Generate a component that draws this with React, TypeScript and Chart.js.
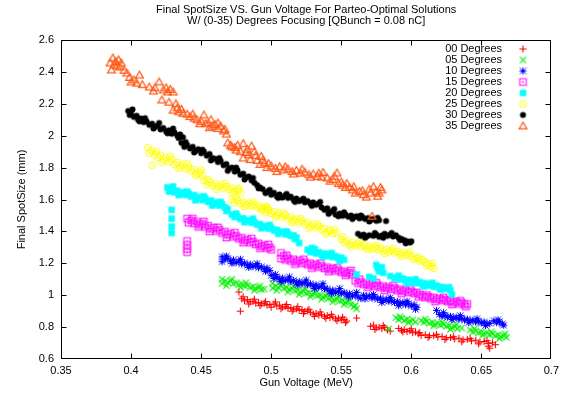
import React, { useEffect, useRef } from 'react';
import { Chart, registerables } from 'chart.js';

Chart.register(...registerables);

const TITLE_LINES = [
  'Final SpotSize VS. Gun Voltage For Parteo-Optimal Solutions',
  'W/ (0-35) Degrees Focusing [QBunch = 0.08 nC]',
];
const X_TITLE = 'Gun Voltage (MeV)';
const Y_TITLE = 'Final SpotSize (mm)';

const SERIES_LABELS = ['00 Degrees', '05 Degrees', '10 Degrees', '15 Degrees', '20 Degrees', '25 Degrees', '30 Degrees', '35 Degrees'];
const SERIES_COLORS = ['#ff0000', '#00f000', '#0000ff', '#ff00ff', '#00ffff', '#ffff00', '#000000', '#ff5a1a'];
const SERIES_MARKERS = ['plus', 'cross', 'star', 'boxdot', 'square', 'circdot', 'disc', 'triangle'];

const X_TICKS = [0.35, 0.4, 0.45, 0.5, 0.55, 0.6, 0.65, 0.7];
const X_TICK_LABELS = ['0.35', '0.4', '0.45', '0.5', '0.55', '0.6', '0.65', '0.7'];
const Y_TICKS = [0.6, 0.8, 1, 1.2, 1.4, 1.6, 1.8, 2, 2.2, 2.4, 2.6];
const Y_TICK_LABELS = ['0.6', '0.8', '1', '1.2', '1.4', '1.6', '1.8', '2', '2.2', '2.4', '2.6'];

const DEG00: [number, number][] = [
  [0.477, 1.020], [0.478, 0.900],
  [0.479, 0.978], [0.481, 0.965], [0.483, 0.972], [0.485, 0.958], [0.487, 0.962], [0.489, 0.950], [0.491, 0.955], [0.493, 0.946], [0.495, 0.950], [0.497, 0.938], [0.499, 0.942],
  [0.502, 0.945], [0.504, 0.932], [0.506, 0.938], [0.508, 0.925], [0.510, 0.930], [0.512, 0.918], [0.514, 0.922], [0.516, 0.912], [0.518, 0.915], [0.520, 0.905], [0.522, 0.910], [0.524, 0.898], [0.526, 0.902],
  [0.528, 0.893], [0.530, 0.882], [0.532, 0.886], [0.534, 0.875], [0.536, 0.878], [0.538, 0.868], [0.540, 0.872], [0.542, 0.860], [0.544, 0.864], [0.546, 0.852], [0.548, 0.856], [0.550, 0.845], [0.552, 0.848], [0.554, 0.838],
  [0.561, 0.857],
  [0.571, 0.805], [0.573, 0.812], [0.575, 0.795], [0.577, 0.800], [0.579, 0.790], [0.581, 0.798], [0.583, 0.782], [0.585, 0.775],
  [0.591, 0.792], [0.593, 0.780], [0.595, 0.785], [0.597, 0.772], [0.599, 0.778], [0.601, 0.765], [0.603, 0.770], [0.605, 0.758], [0.607, 0.748],
  [0.610, 0.752], [0.613, 0.745], [0.616, 0.748], [0.619, 0.738], [0.622, 0.742], [0.625, 0.732], [0.628, 0.735], [0.631, 0.726], [0.634, 0.730], [0.637, 0.720], [0.640, 0.724], [0.643, 0.714], [0.646, 0.718], [0.649, 0.706], [0.652, 0.710], [0.655, 0.698], [0.658, 0.702], [0.655, 0.680], [0.656, 0.668],
  [0.480, 0.990], [0.484, 0.945], [0.488, 0.975], [0.492, 0.935], [0.496, 0.960], [0.500, 0.925], [0.503, 0.958], [0.507, 0.915], [0.511, 0.942], [0.515, 0.900], [0.519, 0.928], [0.523, 0.885], [0.527, 0.912], [0.531, 0.868], [0.535, 0.895], [0.539, 0.855], [0.543, 0.880], [0.547, 0.840], [0.551, 0.862], [0.553, 0.828],
  [0.574, 0.785], [0.580, 0.810], [0.594, 0.770], [0.600, 0.790], [0.606, 0.765], [0.612, 0.735], [0.618, 0.755], [0.624, 0.722], [0.630, 0.740], [0.636, 0.708], [0.642, 0.730], [0.648, 0.695], [0.654, 0.715], [0.660, 0.690],
];

const DEG05: [number, number][] = [
  [0.465, 1.100], [0.465, 1.075], [0.467, 1.088], [0.469, 1.080], [0.471, 1.090], [0.473, 1.072], [0.475, 1.078], [0.477, 1.066], [0.479, 1.070], [0.481, 1.058], [0.483, 1.062], [0.485, 1.050], [0.487, 1.054], [0.489, 1.043], [0.491, 1.047], [0.493, 1.036], [0.495, 1.038],
  [0.501, 1.075], [0.501, 1.045], [0.503, 1.058], [0.505, 1.050], [0.507, 1.060], [0.509, 1.042], [0.511, 1.048], [0.513, 1.035], [0.515, 1.040], [0.517, 1.028], [0.519, 1.033], [0.521, 1.020], [0.523, 1.025], [0.525, 1.012], [0.527, 1.017], [0.529, 1.005], [0.531, 1.009], [0.533, 0.996], [0.535, 1.001], [0.537, 0.988], [0.539, 0.993], [0.541, 0.980], [0.543, 0.984], [0.545, 0.972], [0.547, 0.976], [0.549, 0.963], [0.551, 0.967], [0.553, 0.955], [0.555, 0.958], [0.557, 0.940], [0.559, 0.928], [0.561, 0.915],
  [0.584, 0.790],
  [0.589, 0.858], [0.591, 0.848], [0.593, 0.855], [0.595, 0.842], [0.597, 0.850], [0.599, 0.838], [0.601, 0.845], [0.603, 0.832],
  [0.607, 0.842], [0.609, 0.830], [0.611, 0.836], [0.613, 0.824], [0.615, 0.830], [0.617, 0.818], [0.619, 0.824], [0.621, 0.812], [0.623, 0.818], [0.625, 0.805], [0.627, 0.810], [0.629, 0.798], [0.631, 0.803], [0.633, 0.790], [0.636, 0.794],
  [0.642, 0.782], [0.644, 0.770], [0.646, 0.776], [0.648, 0.765], [0.650, 0.770], [0.652, 0.758], [0.654, 0.764], [0.656, 0.752], [0.658, 0.758], [0.660, 0.746], [0.662, 0.752], [0.664, 0.740], [0.666, 0.746], [0.668, 0.736],
  [0.468, 1.060], [0.472, 1.100], [0.478, 1.050], [0.482, 1.078], [0.488, 1.030], [0.492, 1.058], [0.504, 1.030], [0.508, 1.072], [0.512, 1.020], [0.516, 1.055], [0.520, 1.005], [0.524, 1.040], [0.528, 0.990], [0.532, 1.022], [0.536, 0.975], [0.540, 1.008], [0.544, 0.958], [0.548, 0.990], [0.552, 0.942], [0.556, 0.970], [0.560, 0.935],
  [0.592, 0.865], [0.598, 0.828], [0.610, 0.850], [0.616, 0.808], [0.622, 0.830], [0.628, 0.785], [0.632, 0.815], [0.645, 0.790], [0.651, 0.750], [0.657, 0.770], [0.663, 0.728], [0.667, 0.758],
];

const DEG10: [number, number][] = [
  [0.465, 1.240], [0.465, 1.210], [0.467, 1.225], [0.469, 1.232], [0.471, 1.215], [0.473, 1.222], [0.475, 1.205], [0.477, 1.212], [0.479, 1.196], [0.481, 1.202], [0.483, 1.188], [0.485, 1.194], [0.487, 1.180], [0.489, 1.186], [0.491, 1.172], [0.493, 1.178], [0.495, 1.164], [0.497, 1.170], [0.499, 1.155],
  [0.500, 1.125], [0.502, 1.105], [0.504, 1.115], [0.506, 1.100], [0.508, 1.108], [0.510, 1.092], [0.512, 1.100], [0.514, 1.085], [0.516, 1.093], [0.518, 1.078], [0.520, 1.086], [0.522, 1.072], [0.524, 1.079], [0.526, 1.065], [0.528, 1.072], [0.530, 1.058], [0.532, 1.065], [0.534, 1.050], [0.536, 1.057], [0.538, 1.042],
  [0.540, 1.040], [0.542, 1.025], [0.544, 1.032], [0.546, 1.018], [0.548, 1.025], [0.550, 1.010], [0.552, 1.017], [0.554, 1.003], [0.556, 1.010], [0.558, 0.995], [0.560, 1.002], [0.562, 0.988], [0.564, 0.980],
  [0.566, 1.000], [0.568, 0.990], [0.570, 0.996], [0.572, 0.982], [0.574, 0.989], [0.576, 0.975], [0.578, 0.982], [0.580, 0.968], [0.582, 0.975], [0.584, 0.961], [0.586, 0.968], [0.588, 0.954], [0.590, 0.961], [0.592, 0.947], [0.594, 0.954], [0.596, 0.940], [0.598, 0.947], [0.600, 0.933], [0.602, 0.940], [0.604, 0.925],
  [0.618, 0.905],
  [0.620, 0.880], [0.622, 0.868], [0.624, 0.874], [0.626, 0.862], [0.628, 0.868], [0.630, 0.856], [0.632, 0.862], [0.634, 0.850], [0.636, 0.856], [0.638, 0.844], [0.640, 0.850], [0.642, 0.838], [0.644, 0.844], [0.646, 0.832], [0.648, 0.838], [0.650, 0.826], [0.652, 0.832], [0.654, 0.820], [0.656, 0.824],
  [0.659, 0.840], [0.661, 0.828], [0.663, 0.834], [0.665, 0.820], [0.666, 0.812],
  [0.468, 1.245], [0.472, 1.200], [0.478, 1.225], [0.484, 1.175], [0.490, 1.198], [0.496, 1.150], [0.503, 1.130], [0.507, 1.085], [0.513, 1.115], [0.519, 1.065], [0.525, 1.095], [0.531, 1.042], [0.537, 1.072], [0.543, 1.012], [0.549, 1.042], [0.555, 0.990], [0.561, 1.018], [0.567, 0.978], [0.573, 1.005], [0.579, 0.955], [0.585, 0.985], [0.591, 0.935], [0.597, 0.962], [0.603, 0.912], [0.623, 0.890], [0.629, 0.848], [0.635, 0.872], [0.641, 0.828], [0.647, 0.852], [0.653, 0.810], [0.662, 0.845],
];

const DEG15: [number, number][] = [
  [0.440, 1.480], [0.441, 1.455], [0.443, 1.468], [0.445, 1.450], [0.447, 1.460], [0.449, 1.440], [0.451, 1.448], [0.453, 1.428], [0.455, 1.436], [0.457, 1.415], [0.459, 1.424], [0.461, 1.402], [0.463, 1.410], [0.465, 1.390], [0.467, 1.398], [0.469, 1.378], [0.471, 1.385], [0.473, 1.366], [0.475, 1.372], [0.477, 1.354], [0.479, 1.360], [0.481, 1.342], [0.483, 1.348], [0.485, 1.330], [0.487, 1.336], [0.489, 1.318], [0.491, 1.325], [0.493, 1.306], [0.495, 1.313], [0.497, 1.295], [0.499, 1.300], [0.500, 1.285],
  [0.440, 1.340], [0.440, 1.315], [0.440, 1.290], [0.440, 1.270],
  [0.507, 1.265], [0.509, 1.245], [0.507, 1.230], [0.510, 1.222], [0.512, 1.232], [0.514, 1.215], [0.516, 1.225], [0.518, 1.208], [0.520, 1.217], [0.522, 1.200], [0.524, 1.208], [0.526, 1.192], [0.528, 1.200], [0.530, 1.184], [0.532, 1.192], [0.534, 1.176], [0.536, 1.184], [0.538, 1.168], [0.540, 1.176], [0.542, 1.160], [0.544, 1.168], [0.546, 1.152], [0.548, 1.158], [0.550, 1.144], [0.552, 1.150], [0.554, 1.136], [0.556, 1.142], [0.558, 1.128],
  [0.560, 1.090], [0.562, 1.075], [0.564, 1.083], [0.566, 1.068], [0.568, 1.076], [0.570, 1.062], [0.572, 1.070], [0.574, 1.055], [0.576, 1.063], [0.578, 1.050], [0.580, 1.057], [0.582, 1.043], [0.584, 1.050], [0.586, 1.037], [0.588, 1.045], [0.590, 1.030], [0.592, 1.038], [0.594, 1.024], [0.596, 1.032], [0.598, 1.018], [0.600, 1.025], [0.602, 1.012], [0.604, 1.018], [0.606, 1.005],
  [0.608, 0.995], [0.610, 0.985], [0.612, 0.992], [0.614, 0.978], [0.616, 0.986], [0.618, 0.972], [0.620, 0.980], [0.622, 0.966], [0.624, 0.973], [0.626, 0.960], [0.628, 0.967], [0.630, 0.953], [0.632, 0.960], [0.634, 0.946], [0.636, 0.953], [0.638, 0.940], [0.640, 0.945],
  [0.444, 1.480], [0.448, 1.428], [0.452, 1.462], [0.456, 1.400], [0.462, 1.425], [0.468, 1.362], [0.474, 1.392], [0.480, 1.330], [0.486, 1.355], [0.492, 1.295], [0.498, 1.318],
  [0.511, 1.250], [0.517, 1.195], [0.523, 1.225], [0.529, 1.170], [0.535, 1.200], [0.541, 1.148], [0.547, 1.172], [0.553, 1.125], [0.557, 1.155],
  [0.563, 1.100], [0.569, 1.050], [0.575, 1.078], [0.581, 1.030], [0.587, 1.060], [0.593, 1.010], [0.599, 1.040], [0.605, 0.990], [0.611, 1.002], [0.617, 0.960], [0.623, 0.985], [0.629, 0.942], [0.635, 0.965], [0.639, 0.928],
];

const DEG20: [number, number][] = [
  [0.426, 1.675], [0.427, 1.650], [0.429, 1.662], [0.431, 1.645], [0.433, 1.655], [0.435, 1.636], [0.437, 1.646], [0.439, 1.628], [0.441, 1.638], [0.443, 1.618], [0.445, 1.628], [0.447, 1.608], [0.449, 1.616], [0.451, 1.596], [0.453, 1.606], [0.455, 1.585], [0.457, 1.594], [0.459, 1.574], [0.461, 1.583], [0.463, 1.562], [0.465, 1.570], [0.467, 1.550], [0.469, 1.540],
  [0.429, 1.535], [0.429, 1.480], [0.429, 1.430], [0.429, 1.390],
  [0.472, 1.505], [0.474, 1.490], [0.476, 1.494], [0.478, 1.478], [0.480, 1.482], [0.482, 1.466], [0.484, 1.470], [0.486, 1.454], [0.488, 1.458], [0.490, 1.442], [0.492, 1.446], [0.494, 1.430], [0.496, 1.434], [0.498, 1.418], [0.500, 1.422], [0.502, 1.406], [0.504, 1.410], [0.506, 1.394], [0.508, 1.398], [0.510, 1.382], [0.512, 1.386], [0.514, 1.372], [0.516, 1.375], [0.518, 1.362],
  [0.520, 1.327], [0.529, 1.296],
  [0.526, 1.285], [0.528, 1.270], [0.530, 1.278], [0.532, 1.262], [0.534, 1.270], [0.536, 1.254], [0.538, 1.262], [0.540, 1.246], [0.542, 1.254], [0.544, 1.238], [0.546, 1.245], [0.548, 1.230], [0.550, 1.236], [0.552, 1.222],
  [0.561, 1.130],
  [0.570, 1.115], [0.573, 1.105], [0.575, 1.190], [0.576, 1.170], [0.577, 1.150], [0.579, 1.175], [0.580, 1.140], [0.585, 1.120], [0.588, 1.105], [0.590, 1.112], [0.592, 1.098], [0.594, 1.105], [0.596, 1.090], [0.598, 1.097], [0.600, 1.082], [0.602, 1.089], [0.604, 1.075], [0.606, 1.082], [0.608, 1.068], [0.610, 1.075], [0.612, 1.060], [0.614, 1.067], [0.616, 1.053], [0.618, 1.060], [0.620, 1.046], [0.622, 1.052], [0.624, 1.040], [0.626, 1.044], [0.628, 1.030], [0.629, 1.005],
  [0.430, 1.682], [0.434, 1.628], [0.440, 1.650], [0.446, 1.595], [0.452, 1.620], [0.458, 1.562], [0.464, 1.585], [0.468, 1.528],
  [0.475, 1.512], [0.481, 1.458], [0.487, 1.480], [0.493, 1.420], [0.499, 1.440], [0.505, 1.385], [0.511, 1.400], [0.517, 1.352],
  [0.531, 1.290], [0.537, 1.240], [0.543, 1.265], [0.549, 1.215],
  [0.591, 1.122], [0.597, 1.075], [0.603, 1.100], [0.609, 1.055], [0.615, 1.078], [0.621, 1.035], [0.627, 1.050],
];

const DEG25: [number, number][] = [
  [0.412, 1.925], [0.413, 1.890], [0.415, 1.905], [0.415, 1.815], [0.417, 1.880], [0.419, 1.865], [0.421, 1.878], [0.423, 1.850], [0.425, 1.862], [0.427, 1.836], [0.429, 1.848], [0.431, 1.820], [0.433, 1.832], [0.435, 1.806], [0.437, 1.818], [0.439, 1.792], [0.441, 1.804], [0.443, 1.778], [0.445, 1.788], [0.447, 1.762], [0.449, 1.772], [0.451, 1.748],
  [0.452, 1.720], [0.454, 1.695], [0.456, 1.708], [0.458, 1.688], [0.460, 1.700], [0.462, 1.680], [0.464, 1.692], [0.466, 1.672], [0.468, 1.682], [0.470, 1.662], [0.472, 1.672], [0.474, 1.652], [0.476, 1.660], [0.478, 1.642],
  [0.472, 1.600], [0.474, 1.582], [0.476, 1.592], [0.478, 1.575], [0.480, 1.584], [0.482, 1.568], [0.484, 1.577], [0.486, 1.560], [0.488, 1.568], [0.490, 1.552], [0.492, 1.560], [0.494, 1.544], [0.496, 1.550], [0.498, 1.535],
  [0.494, 1.545], [0.496, 1.520], [0.498, 1.534], [0.500, 1.512], [0.502, 1.524], [0.504, 1.502], [0.506, 1.513], [0.508, 1.490], [0.510, 1.500], [0.512, 1.478], [0.514, 1.490], [0.516, 1.468], [0.518, 1.478], [0.520, 1.456], [0.522, 1.466], [0.524, 1.445], [0.526, 1.455], [0.528, 1.433], [0.530, 1.443], [0.532, 1.422], [0.534, 1.431], [0.536, 1.410], [0.538, 1.418], [0.540, 1.398], [0.542, 1.406], [0.544, 1.386], [0.546, 1.392],
  [0.550, 1.350], [0.552, 1.330], [0.554, 1.340], [0.556, 1.320], [0.558, 1.330], [0.560, 1.312], [0.562, 1.322], [0.564, 1.305], [0.566, 1.315], [0.568, 1.298], [0.570, 1.308], [0.572, 1.292], [0.574, 1.300], [0.576, 1.285], [0.578, 1.294], [0.580, 1.278], [0.582, 1.287], [0.584, 1.272], [0.586, 1.280], [0.588, 1.265], [0.590, 1.274], [0.592, 1.258], [0.594, 1.266], [0.596, 1.250], [0.598, 1.258], [0.600, 1.242], [0.602, 1.225], [0.604, 1.232], [0.606, 1.215], [0.608, 1.222], [0.610, 1.205], [0.612, 1.195], [0.614, 1.180], [0.616, 1.168],
  [0.418, 1.900], [0.422, 1.835], [0.428, 1.870], [0.434, 1.795], [0.440, 1.825], [0.446, 1.752], [0.450, 1.785],
  [0.455, 1.725], [0.461, 1.665], [0.467, 1.700], [0.473, 1.640], [0.477, 1.668],
  [0.475, 1.610], [0.481, 1.555], [0.487, 1.585], [0.493, 1.535],
  [0.497, 1.555], [0.503, 1.490], [0.509, 1.515], [0.515, 1.455], [0.521, 1.480], [0.527, 1.420], [0.533, 1.445], [0.539, 1.385], [0.545, 1.410],
  [0.551, 1.365], [0.557, 1.305], [0.563, 1.335], [0.569, 1.285], [0.575, 1.312], [0.581, 1.262], [0.587, 1.292], [0.593, 1.245], [0.599, 1.270], [0.605, 1.235], [0.611, 1.185], [0.615, 1.200],
];

const DEG30: [number, number][] = [
  [0.398, 2.155], [0.399, 2.130], [0.400, 2.142], [0.402, 2.118], [0.404, 2.125], [0.405, 2.100], [0.407, 2.108], [0.409, 2.085], [0.411, 2.090], [0.413, 2.068], [0.415, 2.075], [0.417, 2.055], [0.419, 2.062], [0.421, 2.040], [0.423, 2.048], [0.425, 2.026], [0.427, 2.034], [0.429, 2.012], [0.431, 2.020], [0.433, 2.000], [0.435, 2.008], [0.437, 1.990],
  [0.436, 1.955], [0.438, 1.930], [0.440, 1.942], [0.442, 1.920], [0.444, 1.930], [0.446, 1.905], [0.448, 1.915], [0.450, 1.890], [0.452, 1.900], [0.454, 1.875], [0.456, 1.885], [0.458, 1.860], [0.460, 1.855], [0.462, 1.835], [0.464, 1.842], [0.466, 1.815], [0.468, 1.822], [0.470, 1.795], [0.472, 1.800], [0.474, 1.775], [0.476, 1.782], [0.478, 1.755], [0.480, 1.762], [0.482, 1.738], [0.484, 1.744], [0.486, 1.720], [0.488, 1.705], [0.490, 1.690], [0.492, 1.676], [0.494, 1.665],
  [0.496, 1.640], [0.498, 1.652], [0.500, 1.630], [0.502, 1.642], [0.504, 1.620], [0.506, 1.632], [0.508, 1.612], [0.510, 1.625], [0.512, 1.610], [0.514, 1.618], [0.516, 1.598], [0.518, 1.606], [0.520, 1.590], [0.522, 1.598], [0.524, 1.582], [0.526, 1.590], [0.528, 1.575], [0.530, 1.582], [0.532, 1.566], [0.534, 1.575], [0.536, 1.550], [0.538, 1.535], [0.540, 1.545], [0.542, 1.520], [0.544, 1.528], [0.546, 1.505], [0.548, 1.495],
  [0.549, 1.512], [0.551, 1.498], [0.553, 1.505], [0.555, 1.492], [0.557, 1.500], [0.559, 1.488], [0.561, 1.495], [0.563, 1.482], [0.565, 1.490], [0.567, 1.478], [0.569, 1.484], [0.571, 1.472], [0.573, 1.478], [0.575, 1.466], [0.577, 1.470], [0.582, 1.465],
  [0.562, 1.385], [0.564, 1.372], [0.566, 1.380], [0.568, 1.368], [0.570, 1.376], [0.573, 1.372], [0.575, 1.380], [0.577, 1.366], [0.579, 1.375], [0.581, 1.385], [0.583, 1.372], [0.585, 1.380], [0.587, 1.368], [0.589, 1.376], [0.591, 1.360], [0.593, 1.352], [0.595, 1.345], [0.597, 1.338], [0.599, 1.330],
  [0.401, 2.165], [0.406, 2.090], [0.410, 2.110], [0.416, 2.045], [0.420, 2.080], [0.426, 2.015], [0.430, 2.045], [0.434, 1.985],
  [0.439, 1.960], [0.445, 1.895], [0.451, 1.912], [0.457, 1.845], [0.463, 1.860], [0.469, 1.780], [0.475, 1.800], [0.481, 1.725], [0.487, 1.735], [0.491, 1.670],
  [0.499, 1.660], [0.505, 1.610], [0.511, 1.635], [0.517, 1.585], [0.523, 1.605], [0.529, 1.560], [0.535, 1.585], [0.541, 1.510], [0.545, 1.540],
  [0.552, 1.520], [0.558, 1.478], [0.564, 1.500], [0.570, 1.462], [0.576, 1.485],
  [0.567, 1.360], [0.574, 1.390], [0.580, 1.360], [0.586, 1.390], [0.592, 1.345], [0.596, 1.325], [0.600, 1.338],
];

const DEG35: [number, number][] = [
  [0.387, 2.487], [0.385, 2.456], [0.386, 2.412], [0.388, 2.443], [0.391, 2.475], [0.393, 2.456], [0.390, 2.437], [0.389, 2.465],
  [0.397, 2.393], [0.400, 2.337], [0.404, 2.330], [0.406, 2.380], [0.399, 2.365], [0.402, 2.350],
  [0.413, 2.305], [0.417, 2.300], [0.420, 2.337], [0.423, 2.287], [0.426, 2.274], [0.430, 2.274], [0.428, 2.290],
  [0.422, 2.224], [0.427, 2.210], [0.432, 2.200], [0.433, 2.175],
  [0.430, 2.160], [0.434, 2.150], [0.437, 2.140], [0.440, 2.135], [0.442, 2.120], [0.445, 2.110], [0.447, 2.100], [0.450, 2.090], [0.452, 2.130], [0.453, 2.075], [0.455, 2.080], [0.457, 2.100], [0.458, 2.060], [0.460, 2.070], [0.462, 2.045], [0.464, 2.060], [0.466, 2.030], [0.468, 2.010],
  [0.471, 1.940], [0.474, 1.925],
  [0.469, 1.955], [0.472, 1.930], [0.475, 1.910], [0.478, 1.900], [0.480, 1.950], [0.482, 1.895], [0.484, 1.880], [0.486, 1.935], [0.488, 1.900], [0.480, 1.860], [0.485, 1.850], [0.490, 1.845], [0.493, 1.870],
  [0.492, 1.820], [0.495, 1.830], [0.497, 1.800], [0.500, 1.810], [0.503, 1.795], [0.506, 1.805], [0.509, 1.785], [0.512, 1.792], [0.515, 1.775], [0.518, 1.782], [0.521, 1.765], [0.524, 1.772], [0.527, 1.755], [0.530, 1.760], [0.533, 1.745], [0.536, 1.740],
  [0.537, 1.770], [0.540, 1.735], [0.542, 1.715], [0.545, 1.745], [0.547, 1.766], [0.548, 1.700], [0.551, 1.690], [0.554, 1.700], [0.556, 1.675], [0.558, 1.660], [0.560, 1.640], [0.563, 1.650], [0.566, 1.630], [0.568, 1.615], [0.570, 1.665], [0.573, 1.680], [0.575, 1.650], [0.577, 1.640], [0.579, 1.660],
  [0.572, 1.495],
  [0.392, 2.430], [0.395, 2.410], [0.408, 2.320], [0.416, 2.280], [0.425, 2.300], [0.436, 2.165], [0.444, 2.135], [0.449, 2.075], [0.456, 2.050], [0.462, 2.080], [0.467, 2.040],
  [0.476, 1.940], [0.483, 1.915], [0.489, 1.875], [0.494, 1.845],
  [0.498, 1.825], [0.504, 1.775], [0.510, 1.805], [0.516, 1.760], [0.522, 1.790], [0.528, 1.740], [0.534, 1.765],
  [0.544, 1.725], [0.550, 1.710], [0.553, 1.675], [0.559, 1.680], [0.565, 1.655], [0.571, 1.640], [0.576, 1.620], [0.578, 1.675],
];

const SERIES_DATA = [DEG00, DEG05, DEG10, DEG15, DEG20, DEG25, DEG30, DEG35];

const FONT = "'Liberation Sans', Arial, Helvetica, sans-serif";

function drawMarker(g: CanvasRenderingContext2D, kind: string, cx: number, cy: number, color: string) {
  g.save();
  g.strokeStyle = color;
  g.fillStyle = color;
  g.lineWidth = 1;
  g.beginPath();
  const plus = (r: number) => { g.moveTo(cx - r, cy); g.lineTo(cx + r, cy); g.moveTo(cx, cy - r); g.lineTo(cx, cy + r); };
  const cross = (r: number) => { g.moveTo(cx - r, cy - r); g.lineTo(cx + r, cy + r); g.moveTo(cx - r, cy + r); g.lineTo(cx + r, cy - r); };
  switch (kind) {
    case 'plus': plus(3.6); g.lineWidth = 1.1; g.stroke(); break;
    case 'cross': cross(3.1); g.lineWidth = 1.1; g.stroke(); break;
    case 'star': plus(3.6); cross(3.1); g.stroke(); break;
    case 'boxdot': g.strokeRect(cx - 3.3, cy - 3.3, 6.6, 6.6); g.fillRect(cx - 0.8, cy - 0.8, 1.6, 1.6); break;
    case 'square': g.fillRect(cx - 3.2, cy - 3.2, 6.4, 6.4); break;
    case 'circdot': g.arc(cx, cy, 3.4, 0, Math.PI * 2); g.stroke(); g.fillRect(cx - 0.8, cy - 0.8, 1.6, 1.6); break;
    case 'disc': g.arc(cx, cy, 3.0, 0, Math.PI * 2); g.fill(); break;
    case 'triangle':
      g.moveTo(cx, cy - 3.9); g.lineTo(cx + 3.9, cy + 2.9); g.lineTo(cx - 3.9, cy + 2.9); g.closePath();
      g.lineWidth = 1.2; g.stroke(); break;
  }
  g.restore();
}

function makeMarker(kind: string, color: string): HTMLCanvasElement {
  const c = document.createElement('canvas');
  c.width = 11; c.height = 11;
  const g = c.getContext('2d')!;
  drawMarker(g, kind, 5.5, 5.5, color);
  return c;
}

export default function App() {
  const ref = useRef<HTMLCanvasElement | null>(null);

  useEffect(() => {
    if (!ref.current) return;
    const markers = SERIES_MARKERS.map((m, i) => makeMarker(m, SERIES_COLORS[i]));

    const framePlugin = {
      id: 'gnuplotFrame',
      afterDraw(chart: any) {
        const { ctx, chartArea: a, scales } = chart;
        const xs = scales.x, ys = scales.y;
        ctx.save();
        ctx.strokeStyle = '#000';
        ctx.lineWidth = 1;
        const L = Math.round(a.left) + 0.5, R = Math.round(a.right) - 0.5;
        const T = Math.round(a.top) + 0.5, B = Math.round(a.bottom) - 0.5;
        ctx.beginPath();
        ctx.rect(L, T, R - L, B - T);
        for (const v of X_TICKS) {
          const p = Math.min(R, Math.round(xs.getPixelForValue(v)) + 0.5);
          ctx.moveTo(p, B); ctx.lineTo(p, B - 5);
          ctx.moveTo(p, T); ctx.lineTo(p, T + 5);
        }
        for (const v of Y_TICKS) {
          const p = Math.min(B, Math.round(ys.getPixelForValue(v)) + 0.5);
          ctx.moveTo(L, p); ctx.lineTo(L + 5, p);
          ctx.moveTo(R, p); ctx.lineTo(R - 5, p);
        }
        ctx.stroke();

        ctx.fillStyle = '#000';
        ctx.font = `11px ${FONT}`;
        ctx.textAlign = 'center';
        ctx.textBaseline = 'middle';
        const cx = (a.left + a.right) / 2;
        ctx.fillText(TITLE_LINES[0], cx, 10);
        ctx.fillText(TITLE_LINES[1], cx, 21);

        ctx.textAlign = 'right';
        SERIES_LABELS.forEach((lab, i) => {
          const y = 49 + i * 11;
          ctx.fillText(lab, 502, y);
          ctx.drawImage(markers[i], 523 - 5.5, y - 5.5);
        });
        ctx.restore();
      },
    };

    const chart = new Chart(ref.current, {
      type: 'scatter',
      data: {
        datasets: SERIES_DATA.map((d, i) => ({
          label: SERIES_LABELS[i],
          data: d,
          pointStyle: markers[i],
          pointRadius: 3,
          borderColor: SERIES_COLORS[i],
          backgroundColor: SERIES_COLORS[i],
          order: SERIES_DATA.length - i,
        })),
      },
      options: {
        responsive: false,
        devicePixelRatio: 1,
        animation: false,
        events: [],
        layout: { padding: { top: 40, right: 11, bottom: 0, left: 0 } },
        plugins: { legend: { display: false }, tooltip: { enabled: false }, title: { display: false } },
        scales: {
          x: {
            type: 'linear',
            min: 0.35,
            max: 0.7,
            afterBuildTicks: (s: any) => { s.ticks = X_TICKS.map((v) => ({ value: v })); },
            afterFit: (s: any) => { s.height = 39; },
            ticks: {
              autoSkip: false,
              maxRotation: 0,
              padding: 5,
              color: '#000',
              font: { family: FONT, size: 11 },
              callback: (v: any) => X_TICK_LABELS[X_TICKS.findIndex((t) => Math.abs(t - v) < 1e-9)],
            },
            grid: { display: false, drawTicks: false },
            border: { display: false },
            title: { display: true, text: X_TITLE, color: '#000', font: { family: FONT, size: 11 }, padding: { top: 0, bottom: 8 } },
          },
          y: {
            type: 'linear',
            min: 0.6,
            max: 2.6,
            afterBuildTicks: (s: any) => { s.ticks = Y_TICKS.map((v) => ({ value: v })); },
            afterFit: (s: any) => { s.width = 61; },
            ticks: {
              autoSkip: false,
              padding: 7,
              color: '#000',
              font: { family: FONT, size: 11 },
              callback: (v: any) => Y_TICK_LABELS[Y_TICKS.findIndex((t) => Math.abs(t - v) < 1e-9)],
            },
            grid: { display: false, drawTicks: false },
            border: { display: false },
            title: { display: true, text: Y_TITLE, color: '#000', font: { family: FONT, size: 11 }, padding: { top: 15, bottom: 0 } },
          },
        },
      },
      plugins: [framePlugin],
    } as any);

    return () => chart.destroy();
  }, []);

  return (
    <div style={{ position: 'fixed', left: 0, top: 0, width: 564, height: 398, background: '#fff' }}>
      <canvas ref={ref} width={564} height={398} style={{ width: 564, height: 398, display: 'block' }} />
    </div>
  );
}
